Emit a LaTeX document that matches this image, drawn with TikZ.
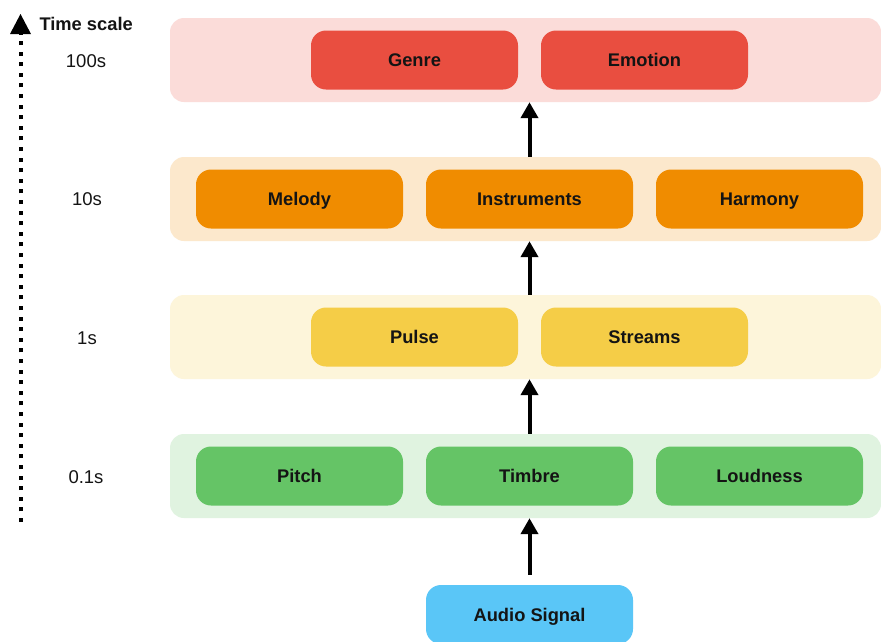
\documentclass[tikz,border=0pt]{standalone}
\usepackage{fontspec}
\setmainfont{Liberation Sans}
\usetikzlibrary{arrows.meta,positioning}

% palette
\definecolor{cred}{HTML}{E94E40}
\definecolor{corange}{HTML}{F08C00}
\definecolor{cyellow}{HTML}{F5CD47}
\definecolor{cgreen}{HTML}{65C466}
\definecolor{cblue}{HTML}{5AC6F7}
\definecolor{ink}{HTML}{141414}

\tikzset{
  band/.style={draw=none, fill=#1!20, rounded corners=14pt,
    minimum width=711pt, minimum height=84pt, inner sep=0pt},
  feature/.style={draw=none, fill=#1, rounded corners=15pt,
    minimum width=207pt, minimum height=59pt, inner sep=0pt,
    text height=13pt, text depth=0pt,
    text=ink, font=\fontsize{18.3}{20}\selectfont\bfseries},
  scalelabel/.style={text=ink, text height=13.5pt, text depth=0pt,
    font=\fontsize{18.5}{20}\selectfont},
  flow/.style={line width=4pt, draw=black, -{Triangle[length=16pt,width=17pt]}},
}

\begin{document}
\begin{tikzpicture}[x=1pt, y=-1pt]
  \useasboundingbox[fill=white] (0,0) rectangle (881,641);

  % level bands
  \node[band=cred]    (b1) at (525.5,60)  {};
  \node[band=corange] (b2) at (525.5,199) {};
  \node[band=cyellow] (b3) at (525.5,337) {};
  \node[band=cgreen]  (b4) at (525.5,476) {};

  % features per level
  \node[feature=cred]    (genre)   at (414.5,60)  {Genre};
  \node[feature=cred]    (emotion) at (644.5,60)  {Emotion};
  \node[feature=corange] (melody)  at (299.5,199) {Melody};
  \node[feature=corange] (instr)   at (529.5,199) {Instruments};
  \node[feature=corange] (harmony) at (759.5,199) {Harmony};
  \node[feature=cyellow] (pulse)   at (414.5,337) {Pulse};
  \node[feature=cyellow] (streams) at (644.5,337) {Streams};
  \node[feature=cgreen]  (pitch)   at (299.5,476) {Pitch};
  \node[feature=cgreen]  (timbre)  at (529.5,476) {Timbre};
  \node[feature=cgreen]  (loud)    at (759.5,476) {Loudness};
  \node[feature=cblue]   (audio)   at (529.5,614.5) {Audio Signal};

  % upward flow between levels
  \draw[flow] ([yshift=10pt]audio.north) -- (audio.north |- b4.south);
  \draw[flow] (timbre.south |- b4.north) -- (timbre.south |- b3.south);
  \draw[flow] (instr.south |- b3.north) -- (instr.south |- b2.south);
  \draw[flow] (instr.north |- b2.north) -- (instr.north |- b1.south);

  % time axis
  \coordinate (axbot) at (20.5,522);
  \coordinate (axtop) at (20.5,34);
  \coordinate (axtip) at (20.5,14);
  \draw[line width=4pt, dash pattern=on 4pt off 6.6pt] (axbot) -- (axtop);
  \fill (axtip) -- ([xshift=-10.5pt]axtop) -- ([xshift=10.5pt]axtop) -- cycle;
  \node[anchor=west, text=ink, text height=13pt, text depth=0pt,
    font=\fontsize{18.3}{20}\selectfont\bfseries]
    (axlabel) at (36,24) {Time scale};

  % scale labels
  \node[scalelabel] (t100) at (86,61)  {100s};
  \node[scalelabel] (t10)  at (87,199) {10s};
  \node[scalelabel] (t1)   at (87,338) {1s};
  \node[scalelabel] (t01)  at (86,477) {0.1s};
\end{tikzpicture}
\end{document}
